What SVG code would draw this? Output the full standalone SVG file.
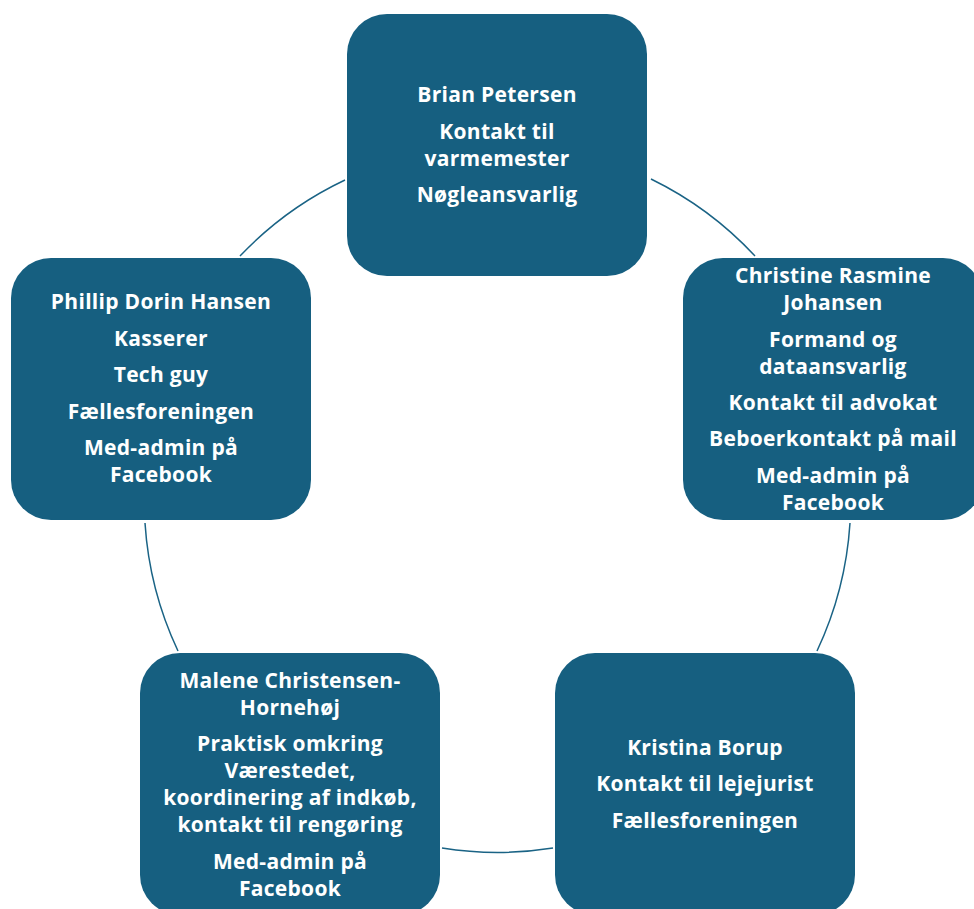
<svg xmlns="http://www.w3.org/2000/svg" width="974" height="909" viewBox="0 0 974 909">
<style>
.box{fill:#165F80;}
.t{font-family:"Open Sans","Liberation Sans",sans-serif;font-weight:bold;font-size:21px;letter-spacing:0.3px;fill:#ffffff;text-anchor:middle;}
.c{fill:none;stroke:#1A6385;stroke-width:1.5;}
</style>
<rect width="974" height="909" fill="#ffffff"/>
<g id="connectors">
<path class="c" d="M651,179 A353,353 0 0 1 755,256"/>
<path class="c" d="M850,523 A353,353 0 0 1 817,651"/>
<path class="c" d="M553,848 A353,353 0 0 1 442,848"/>
<path class="c" d="M178,651 A353,353 0 0 1 145,523"/>
<path class="c" d="M240,256 A353,353 0 0 1 345,180"/>
</g>
<g id="node-brian">
<rect class="box" x="347" y="14" width="300" height="262" rx="40"/>
<text class="t" x="497" y="102">Brian Petersen</text>
<text class="t" x="497" y="138.5">Kontakt til</text>
<text class="t" x="497" y="165.5">varmemester</text>
<text class="t" x="497" y="202">Nøgleansvarlig</text>
</g>
<g id="node-christine">
<rect class="box" x="683" y="258" width="300" height="262" rx="40"/>
<text class="t" x="833" y="283">Christine Rasmine</text>
<text class="t" x="833" y="310">Johansen</text>
<text class="t" x="833" y="346.5">Formand og</text>
<text class="t" x="833" y="373.5">dataansvarlig</text>
<text class="t" x="833" y="409.5">Kontakt til advokat</text>
<text class="t" x="833" y="446">Beboerkontakt på mail</text>
<text class="t" x="833" y="482.5">Med-admin på</text>
<text class="t" x="833" y="509.5">Facebook</text>
</g>
<g id="node-kristina">
<rect class="box" x="555" y="653" width="300" height="262" rx="40"/>
<text class="t" x="705" y="754.5">Kristina Borup</text>
<text class="t" x="705" y="791">Kontakt til lejejurist</text>
<text class="t" x="705" y="827.5">Fællesforeningen</text>
</g>
<g id="node-malene">
<rect class="box" x="140" y="653" width="300" height="262" rx="40"/>
<text class="t" x="290" y="687.5">Malene Christensen-</text>
<text class="t" x="290" y="714.5">Hornehøj</text>
<text class="t" x="290" y="751">Praktisk omkring</text>
<text class="t" x="290" y="778">Værestedet,</text>
<text class="t" x="290" y="805">koordinering af indkøb,</text>
<text class="t" x="290" y="832">kontakt til rengøring</text>
<text class="t" x="290" y="868.5">Med-admin på</text>
<text class="t" x="290" y="895.5">Facebook</text>
</g>
<g id="node-phillip">
<rect class="box" x="11" y="258" width="300" height="262" rx="40"/>
<text class="t" x="161" y="309">Phillip Dorin Hansen</text>
<text class="t" x="161" y="345.5">Kasserer</text>
<text class="t" x="161" y="382">Tech guy</text>
<text class="t" x="161" y="418.5">Fællesforeningen</text>
<text class="t" x="161" y="455">Med-admin på</text>
<text class="t" x="161" y="482">Facebook</text>
</g>
</svg>
